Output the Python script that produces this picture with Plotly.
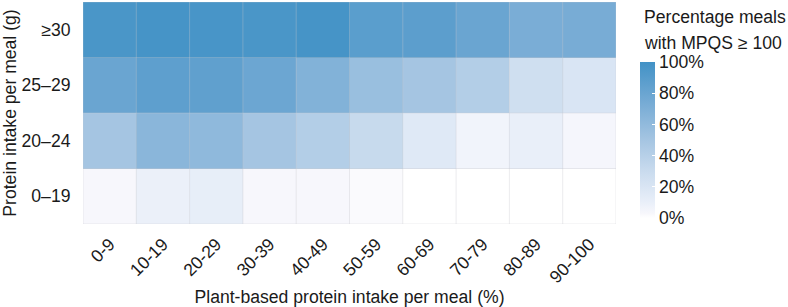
import plotly.graph_objects as go

plant_pct = ["0-9", "10-19", "20-29", "30-39", "40-49", "50-59", "60-69", "70-79", "80-89", "90-100"]
protein_g = ["0–19", "20–24", "25–29", "≥30"]

row_0_19 = [3, 9, 11, 3, 3, 2, 0, 0, 0, 0]
row_20_24 = [50, 64, 61, 50, 42, 31, 16, 6, 10, 4]
row_25_29 = [80, 86, 85, 79, 68, 56, 50, 42, 26, 20]
row_30 = [96, 98, 97, 96, 98, 88, 87, 80, 72, 73]

z = [row_0_19, row_20_24, row_25_29, row_30]

cbar_ticks = [0, 20, 40, 60, 80, 100]

FONT = "Liberation Sans, Arial, sans-serif"
FS = 17.6
TXT = "#1a1a1a"

W, H = 788, 307
ML, MR, MT, MB = 83, 172, 2, 83
pw = W - ML - MR
ph = H - MT - MB

colorscale = [
    [0.0, "#ffffff"],
    [0.03, "#f7f7fc"],
    [0.10, "#e9eff9"],
    [0.30, "#c9dbee"],
    [0.50, "#a5c5e2"],
    [0.75, "#74aad4"],
    [1.0, "#4292c6"],
]

fig = go.Figure()
fig.add_trace(go.Heatmap(
    z=z, x=list(range(len(plant_pct))), y=list(range(len(protein_g))),
    zmin=0, zmax=100, colorscale=colorscale,
    hovertemplate="%{z}%<extra></extra>",
    colorbar=dict(
        x=(640 - ML) / pw, xanchor="left", xpad=0,
        y=(H - MB - 218) / ph, yanchor="bottom", ypad=0,
        len=156, lenmode="pixels",
        thickness=15, outlinewidth=0,
        tickvals=cbar_ticks, ticktext=[f"{v}%" for v in cbar_ticks],
        ticks="inside", ticklen=3, tickcolor="white", tickwidth=1,
        tickfont=dict(family=FONT, size=FS, color=TXT),
    ),
))

shapes = []
nx, ny = len(plant_pct), len(protein_g)
grid_col = "rgba(200,200,205,0.35)"
for i in range(nx + 1):
    shapes.append(dict(type="line", xref="x", yref="y", x0=i - 0.5, x1=i - 0.5,
                       y0=-0.5, y1=ny - 0.5, line=dict(color=grid_col, width=1), layer="above"))
for j in range(ny + 1):
    shapes.append(dict(type="line", xref="x", yref="y", x0=-0.5, x1=nx - 0.5,
                       y0=j - 0.5, y1=j - 0.5, line=dict(color=grid_col, width=1), layer="above"))

annotations = [
    dict(text="Percentage meals", x=(642 - ML) / pw, y=(H - MB - 17) / ph, xref="paper", yref="paper",
         xanchor="left", yanchor="middle", showarrow=False, font=dict(family=FONT, size=FS, color=TXT)),
    dict(text="with MPQS ≥ 100", x=(642 - ML) / pw, y=(H - MB - 43) / ph, xref="paper", yref="paper",
         xanchor="left", yanchor="middle", showarrow=False, font=dict(family=FONT, size=FS, color=TXT)),
]

fig.update_layout(
    width=W, height=H,
    margin=dict(l=ML, r=MR, t=MT, b=MB, autoexpand=False),
    paper_bgcolor="white", plot_bgcolor="white",
    shapes=shapes, annotations=annotations,
    font=dict(family=FONT, size=FS, color=TXT),
    xaxis=dict(
        tickvals=list(range(nx)), ticktext=plant_pct, tickangle=-45,
        range=[-0.5, nx - 0.5], showgrid=False, zeroline=False, automargin=False,
        ticks="outside", ticklen=2, tickcolor="rgba(0,0,0,0)",
        tickfont=dict(family=FONT, size=FS, color=TXT),
        title=dict(text="Plant-based protein intake per meal (%)", standoff=8,
                   font=dict(family=FONT, size=FS, color=TXT)),
    ),
    yaxis=dict(
        tickvals=list(range(ny)), ticktext=protein_g,
        range=[-0.5, ny - 0.5], showgrid=False, zeroline=False, automargin=False,
        ticks="outside", ticklen=8, tickcolor="rgba(0,0,0,0)",
        tickfont=dict(family=FONT, size=FS, color=TXT),
        title=dict(text="Protein intake per meal (g)", standoff=4,
                   font=dict(family=FONT, size=FS, color=TXT)),
    ),
)

fig.write_html("out.html")
